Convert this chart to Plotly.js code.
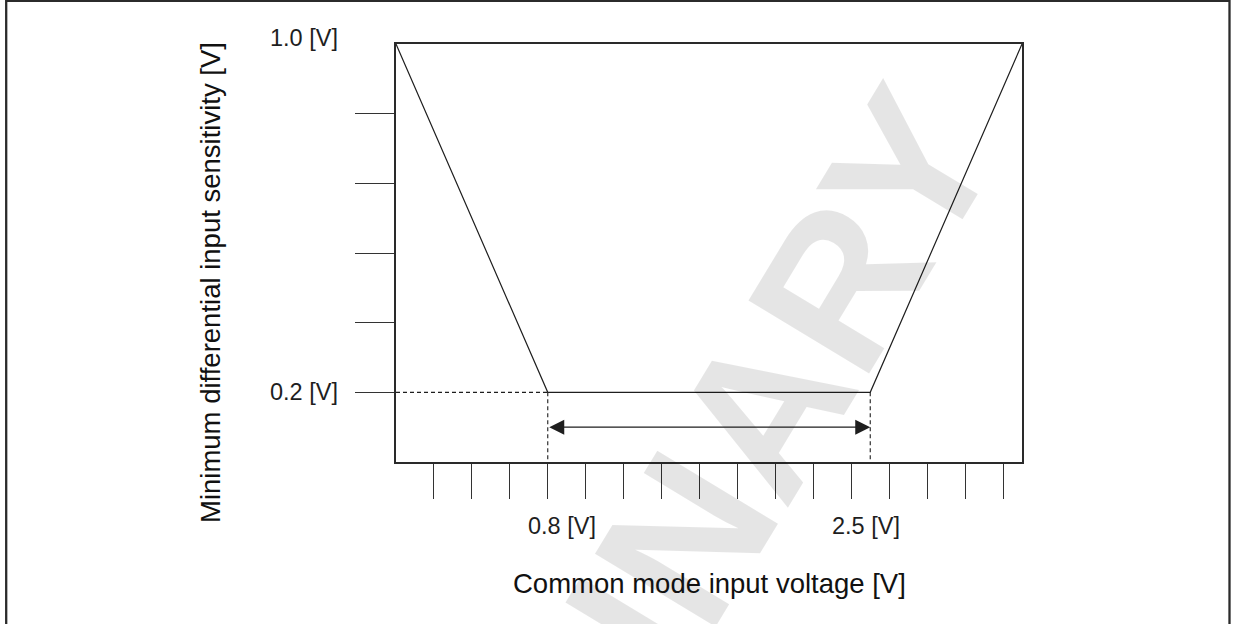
<!DOCTYPE html>
<html><head><meta charset="utf-8">
<script src="https://cdn.plot.ly/plotly-3.0.1.min.js"></script>
<style>html,body{margin:0;padding:0;background:#fff;}</style>
</head><body><div id="chart" style="width:1236px;height:624px;"></div>
<script>
// ---- data ----
const boundaryX = [0, 0.8, 2.5, 3.3];      // common mode input voltage [V]
const boundaryY = [1.0, 0.2, 0.2, 1.0];    // minimum differential input sensitivity [V]
const vcmMin = 0.8;
const vcmMax = 2.5;
const vidMin = 0.2;
const arrowLevel = 0.12;
const xTicks = [0.2, 0.4, 0.6, 0.8, 1.0, 1.2, 1.4, 1.6, 1.8, 2.0, 2.2, 2.4, 2.6, 2.8, 3.0, 3.2];
const yTicks = [0.2, 0.36, 0.52, 0.68, 0.84];
const xRange = [0, 3.3];
const yRange = [0.04, 1.0];
const xLabelText = ['0.8 [V]', '2.5 [V]'];
const yLabelText = ['0.2 [V]', '1.0 [V]'];
const xTitle = 'Common mode input voltage [V]';
const yTitle = 'Minimum differential input sensitivity [V]';
const watermark = 'PRELIMINARY';

// ---- layout helpers (pixel -> paper) ----
const W = 1236, H = 624, L = 396, R = 1022, T = 44, B = 462;
const px = v => (v - L) / (R - L);
const py = v => (B - v) / (B - T);
const FONT = 'Liberation Sans, Arial, Helvetica, sans-serif';
const INK = '#1e1e1e';

const traces = [
  { x: boundaryX, y: boundaryY, mode: 'lines', line: {color: INK, width: 1.2}, hoverinfo: 'skip' },
  { x: [xRange[0], vcmMin], y: [vidMin, vidMin], mode: 'lines',
    line: {color: INK, width: 1.1, dash: '4px,3px'}, hoverinfo: 'skip' },
  { x: [vcmMin, vcmMin, null, vcmMax, vcmMax], y: [vidMin, yRange[0], null, vidMin, yRange[0]], mode: 'lines',
    line: {color: INK, width: 1.1, dash: '4px,3px'}, hoverinfo: 'skip' }
];

const labelFont = {family: FONT, size: 23.5, color: INK};
const titleFont = {family: FONT, size: 27.5, color: '#111'};

const annotations = [
  { text: watermark, xref: 'paper', yref: 'paper', x: px(580), y: py(712), showarrow: false,
    textangle: -58.8, xanchor: 'center', yanchor: 'middle',
    font: {family: FONT, size: 205, weight: 'bold', color: 'rgba(0,0,0,0.1)'} },
  { text: '', xref: 'x', yref: 'y', axref: 'x', ayref: 'y', x: vcmMax, y: arrowLevel, ax: vcmMin, ay: arrowLevel,
    showarrow: true, arrowside: 'end+start', arrowhead: 2, startarrowhead: 2, arrowsize: 2.5, startarrowsize: 2.5,
    arrowwidth: 1.2, arrowcolor: INK, standoff: 0, startstandoff: 0 },
  { text: yLabelText[1], xref: 'paper', yref: 'paper', x: px(340), y: py(38), xanchor: 'right', yanchor: 'middle', showarrow: false, font: labelFont },
  { text: yLabelText[0], xref: 'paper', yref: 'paper', x: px(340), y: py(392), xanchor: 'right', yanchor: 'middle', showarrow: false, font: labelFont },
  { text: xLabelText[0], xref: 'paper', yref: 'paper', x: px(562), y: py(526), xanchor: 'center', yanchor: 'middle', showarrow: false, font: labelFont },
  { text: xLabelText[1], xref: 'paper', yref: 'paper', x: px(865.5), y: py(526), xanchor: 'center', yanchor: 'middle', showarrow: false, font: labelFont },
  { text: xTitle, xref: 'paper', yref: 'paper', x: px(709), y: py(583), xanchor: 'center', yanchor: 'middle', showarrow: false, font: titleFont },
  { text: yTitle, xref: 'paper', yref: 'paper', x: px(210), y: py(283), xanchor: 'center', yanchor: 'middle', textangle: -90, showarrow: false, font: titleFont }
];

const axisCommon = {
  showline: true, mirror: true, linecolor: '#2a2a2a', linewidth: 1.6,
  ticks: 'outside', tickcolor: '#333333', tickwidth: 1,
  showticklabels: false, showgrid: false, zeroline: false, fixedrange: true
};

const layout = {
  width: W, height: H,
  margin: {l: L, r: W - R, t: T, b: H - B, pad: 0},
  paper_bgcolor: '#ffffff', plot_bgcolor: 'rgba(0,0,0,0)',
  showlegend: false,
  xaxis: Object.assign({}, axisCommon, {range: xRange, tickvals: xTicks, ticklen: 35}),
  yaxis: Object.assign({}, axisCommon, {range: yRange, tickvals: yTicks, ticklen: 39}),
  annotations: annotations,
  shapes: [
    { type: 'rect', xref: 'paper', yref: 'paper', x0: px(6.2), x1: px(1229.5), y0: py(640), y1: py(0.9),
      line: {color: '#2b2b2b', width: 2.3}, fillcolor: 'rgba(0,0,0,0)' }
  ]
};

Plotly.newPlot('chart', traces, layout, {displayModeBar: false, staticPlot: true});
</script>
</body></html>
